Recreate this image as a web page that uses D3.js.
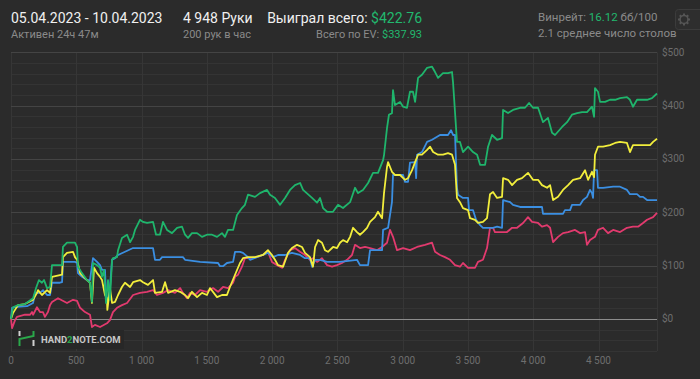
<!DOCTYPE html>
<html><head><meta charset="utf-8">
<script src="https://cdn.jsdelivr.net/npm/d3@7"></script>
<style>
html,body{margin:0;padding:0;background:#2b2b2b;}
svg{display:block;font-family:Roboto,"Noto Sans",sans-serif;}
</style></head>
<body><svg id="c" width="700" height="379"></svg>
<script>
// ---- data (hands, $) ----
const wonPoints = [[0,0],[15,22],[54,26],[107,28],[169,39],[192,58],[214,73],[237,68],[253,73],[276,58],[299,60],[314,101],[391,101],[398,135],[429,143],[490,143],[506,135],[513,98],[544,86],[582,73],[605,68],[620,32],[628,105],[659,101],[682,96],[697,79],[712,92],[728,30],[743,73],[758,36],[774,111],[781,114],[812,116],[820,129],[850,152],[889,158],[912,144],[935,154],[950,167],[988,186],[1011,182],[1042,180],[1088,182],[1111,158],[1141,158],[1164,182],[1195,167],[1233,161],[1272,171],[1310,173],[1333,158],[1356,152],[1386,161],[1425,161],[1463,154],[1501,158],[1540,158],[1578,154],[1616,161],[1639,154],[1662,167],[1701,167],[1731,195],[1769,208],[1792,214],[1815,233],[1869,229],[1907,236],[1961,242],[1984,233],[2022,227],[2061,214],[2099,227],[2137,242],[2175,251],[2214,255],[2237,242],[2306,227],[2344,218],[2367,227],[2390,208],[2421,201],[2466,201],[2505,214],[2543,208],[2597,219],[2635,246],[2658,236],[2696,242],[2735,255],[2773,274],[2811,274],[2850,298],[2857,307],[2880,358],[2895,383],[2918,386],[2926,429],[2941,401],[2980,407],[3003,398],[3033,396],[3056,426],[3079,426],[3095,407],[3118,452],[3148,458],[3187,471],[3225,473],[3248,463],[3271,452],[3309,461],[3347,461],[3378,463],[3386,443],[3416,332],[3439,332],[3462,313],[3501,323],[3539,313],[3570,308],[3593,289],[3631,289],[3654,323],[3684,345],[3723,336],[3761,339],[3769,392],[3807,386],[3845,392],[3899,396],[3937,396],[3968,405],[3998,396],[4037,396],[4075,369],[4113,377],[4144,349],[4167,345],[4221,360],[4259,369],[4297,383],[4336,386],[4374,388],[4412,388],[4450,398],[4466,379],[4473,433],[4496,426],[4512,407],[4550,407],[4588,411],[4627,411],[4665,414],[4718,416],[4741,411],[4764,398],[4795,411],[4833,411],[4872,411],[4910,414],[4948,422.76]];

const evPoints = [[0,0],[15,11],[54,26],[107,28],[169,36],[199,49],[207,54],[237,45],[276,54],[299,49],[314,79],[391,83],[398,116],[429,124],[475,126],[490,116],[506,111],[529,86],[582,73],[605,68],[620,30],[636,96],[659,86],[682,79],[697,73],[720,45],[735,39],[738,17],[758,58],[774,30],[797,32],[820,45],[850,60],[873,68],[912,60],[935,69],[988,73],[1011,69],[1049,64],[1088,73],[1103,49],[1157,51],[1180,69],[1203,49],[1256,54],[1295,51],[1333,45],[1356,39],[1386,51],[1425,41],[1463,49],[1501,45],[1524,58],[1578,41],[1616,45],[1654,45],[1677,60],[1716,83],[1754,105],[1777,114],[1815,116],[1869,116],[1930,120],[1968,129],[1999,120],[2022,111],[2045,101],[2084,98],[2122,124],[2152,133],[2191,139],[2229,135],[2252,124],[2290,116],[2313,98],[2329,135],[2352,148],[2382,143],[2405,129],[2428,126],[2467,135],[2497,133],[2520,143],[2543,148],[2574,144],[2597,154],[2620,171],[2650,163],[2673,158],[2696,163],[2727,171],[2750,182],[2788,191],[2811,201],[2842,189],[2857,236],[2880,285],[2888,294],[2918,276],[2941,270],[2980,270],[3018,261],[3041,264],[3072,279],[3095,294],[3118,308],[3148,308],[3187,317],[3210,323],[3233,313],[3271,308],[3309,308],[3347,311],[3378,308],[3401,289],[3416,227],[3439,219],[3462,208],[3501,204],[3516,189],[3554,186],[3577,180],[3615,182],[3646,189],[3669,234],[3692,238],[3723,227],[3761,229],[3769,264],[3807,261],[3838,251],[3876,261],[3914,264],[3960,274],[3998,261],[4037,261],[4067,251],[4106,246],[4129,251],[4152,223],[4190,229],[4228,242],[4267,251],[4305,261],[4359,264],[4397,279],[4420,261],[4450,276],[4466,266],[4473,308],[4496,323],[4535,323],[4588,326],[4627,330],[4665,332],[4718,330],[4741,313],[4764,326],[4803,326],[4856,326],[4895,326],[4918,332],[4948,337.93]];

const showdownPoints = [[0,0],[8,21],[46,23],[123,24],[169,30],[184,49],[222,49],[245,54],[276,45],[299,45],[314,68],[375,68],[391,69],[398,107],[490,107],[506,105],[513,86],[544,79],[582,73],[605,73],[628,114],[659,107],[682,101],[697,92],[720,92],[728,39],[743,39],[758,58],[774,111],[797,114],[820,120],[935,133],[1088,133],[1103,111],[1141,111],[1157,116],[1317,116],[1333,111],[1448,107],[1586,105],[1601,99],[1624,99],[1654,105],[1701,107],[1716,126],[1754,126],[1777,124],[1815,116],[1831,111],[1884,116],[1968,124],[2007,116],[2045,120],[2099,120],[2152,124],[2214,120],[2252,114],[2290,114],[2306,98],[2329,111],[2367,111],[2421,107],[2520,107],[2650,111],[2673,101],[2735,101],[2750,129],[2842,129],[2850,167],[2888,171],[2918,219],[2926,270],[3003,270],[3018,257],[3041,257],[3056,293],[3095,294],[3103,264],[3110,308],[3148,313],[3187,332],[3225,336],[3286,345],[3347,345],[3370,354],[3386,345],[3401,345],[3416,246],[3424,233],[3462,227],[3501,227],[3508,204],[3539,204],[3562,186],[3593,176],[3615,171],[3692,171],[3723,173],[3761,171],[3769,223],[3823,219],[3845,214],[3899,210],[4067,210],[4075,197],[4228,197],[4243,204],[4282,204],[4297,214],[4359,214],[4382,223],[4412,229],[4435,242],[4450,236],[4458,227],[4466,279],[4489,279],[4496,246],[4535,246],[4612,248],[4665,248],[4718,242],[4741,234],[4795,234],[4818,229],[4841,229],[4872,223],[4948,223]];

const nonShowdownPoints = [[0,0],[8,-17],[31,-2],[46,4],[107,8],[146,8],[161,13],[169,8],[199,22],[222,13],[245,13],[260,4],[283,13],[299,26],[314,32],[360,39],[429,30],[475,36],[506,34],[529,21],[567,13],[605,8],[620,-15],[643,-11],[682,-15],[735,-8],[758,-2],[781,13],[812,21],[850,26],[889,30],[935,45],[988,49],[1042,51],[1088,54],[1118,45],[1164,49],[1203,54],[1256,49],[1295,58],[1317,49],[1348,39],[1371,49],[1409,45],[1448,54],[1501,51],[1547,58],[1586,51],[1624,60],[1662,58],[1701,68],[1716,79],[1739,83],[1769,98],[1792,114],[1831,114],[1884,116],[1930,120],[1968,126],[1999,107],[2038,101],[2076,96],[2099,111],[2137,129],[2175,133],[2214,126],[2252,120],[2290,111],[2313,114],[2344,107],[2382,114],[2421,101],[2459,98],[2497,101],[2535,105],[2574,111],[2612,120],[2635,139],[2673,133],[2712,135],[2750,133],[2803,129],[2842,135],[2880,143],[2903,167],[2926,154],[2957,129],[3003,133],[3056,129],[3110,135],[3171,139],[3225,143],[3248,126],[3286,120],[3324,116],[3363,111],[3401,101],[3439,98],[3462,105],[3501,96],[3554,96],[3577,107],[3615,111],[3646,133],[3669,171],[3692,171],[3707,163],[3746,163],[3799,163],[3838,171],[3876,171],[3922,180],[3960,191],[3991,182],[4037,180],[4067,173],[4106,176],[4129,171],[4152,144],[4190,154],[4228,161],[4267,163],[4320,167],[4359,161],[4397,163],[4412,139],[4435,148],[4473,154],[4496,167],[4535,171],[4573,161],[4612,167],[4665,163],[4718,171],[4764,173],[4803,173],[4841,180],[4872,186],[4918,191],[4948,199]];

const xTicks = [0,500,1000,1500,2000,2500,3000,3500,4000,4500];
const yMajorTicks = [0,100,200,300,400,500];
const yMinorTicks = [-60,-40,-20,20,40,60,80,120,140,160,180,220,240,260,280,320,340,360,380,420,440,460,480];
const totalHands = 4948;

// ---- drawing ----
const svg = d3.select("#c");
const x = d3.scaleLinear().domain([0, totalHands]).range([11, 657]);
const y = d3.scaleLinear().domain([-60, 500]).range([351, 52.3]);
const fmtHands = v => d3.format(",")(v).replace(/,/g, "\u00a0");

const g = svg.append("g");
// grid
g.selectAll(".ymin").data(yMinorTicks).join("line")
  .attr("x1", x(0)).attr("x2", x(totalHands))
  .attr("y1", d => Math.round(y(d)) + 0.5).attr("y2", d => Math.round(y(d)) + 0.5)
  .attr("stroke", "#343434").attr("stroke-width", 1);
g.selectAll(".xg").data(xTicks.concat([totalHands])).join("line")
  .attr("x1", d => Math.round(x(d)) + 0.5).attr("x2", d => Math.round(x(d)) + 0.5)
  .attr("y1", y(500)).attr("y2", y(-60))
  .attr("stroke", "#363636").attr("stroke-width", 1);
g.selectAll(".ymaj").data(yMajorTicks.filter(d => d !== 0)).join("line")
  .attr("x1", x(0)).attr("x2", x(totalHands))
  .attr("y1", d => Math.round(y(d)) + 0.5).attr("y2", d => Math.round(y(d)) + 0.5)
  .attr("stroke", "#444444").attr("stroke-width", 1);
g.append("line")
  .attr("x1", x(0)).attr("x2", x(totalHands))
  .attr("y1", Math.round(y(0)) + 0.5).attr("y2", Math.round(y(0)) + 0.5)
  .attr("stroke", "#8c8c8c").attr("stroke-width", 1);

// axis labels
svg.selectAll(".yl").data(yMajorTicks).join("text")
  .attr("x", 662).attr("y", d => y(d)).attr("dy", "0.35em")
  .attr("font-size", 10).attr("fill", "#6e6e6e").text(d => "$" + d);
svg.selectAll(".xl").data(xTicks).join("text")
  .attr("x", d => x(d)).attr("y", 360).attr("dy", "0.35em")
  .attr("text-anchor", "middle").attr("font-size", 10).attr("fill", "#6e6e6e")
  .text(d => fmtHands(d));

// logo
const logo = svg.append("g");
logo.append("rect").attr("x", 12).attr("y", 330).attr("width", 112).attr("height", 19).attr("fill", "#272727");
logo.append("line").attr("x1", 19.5).attr("x2", 19.5).attr("y1", 331).attr("y2", 336).attr("stroke", "#d0d0d0").attr("stroke-width", 2);
logo.append("path").attr("d", "M19.5,346 L19.5,339 L33.5,336 L33.5,331").attr("fill", "none").attr("stroke", "#2aa84a").attr("stroke-width", 2);
logo.append("line").attr("x1", 33.5).attr("x2", 33.5).attr("y1", 340).attr("y2", 346).attr("stroke", "#d0d0d0").attr("stroke-width", 2);
const lt = logo.append("text").attr("x", 41).attr("y", 342.5).attr("font-size", 9.5).attr("font-weight", "bold").attr("fill", "#c8c8c8");
lt.append("tspan").text("HAND");
lt.append("tspan").attr("fill", "#2aa84a").text("2");
lt.append("tspan").text("NOTE.COM");

// lines
const line = d3.line().x(d => x(d[0])).y(d => y(d[1]));
const series = [
  {pts: nonShowdownPoints, color: "#e23a6e"},
  {pts: showdownPoints, color: "#3b8fe2"},
  {pts: evPoints, color: "#f2ee3c"},
  {pts: wonPoints, color: "#1fb56c"}
];
svg.selectAll(".ser").data(series).join("path")
  .attr("d", d => line(d.pts)).attr("fill", "none")
  .attr("stroke", d => d.color).attr("stroke-width", 1.8)
  .attr("stroke-linejoin", "round");

// header
const hdr = svg.append("g");
hdr.append("text").attr("x", 11).attr("y", 23).attr("font-size", 14).attr("fill", "#f0f0f0").text("05.04.2023 - 10.04.2023");
hdr.append("text").attr("x", 11).attr("y", 38).attr("font-size", 11).attr("fill", "#8a8a8a").text("Активен 24ч 47м");
hdr.append("text").attr("x", 183).attr("y", 23).attr("font-size", 14).attr("fill", "#f0f0f0").text("4 948 Руки");
hdr.append("text").attr("x", 183).attr("y", 38).attr("font-size", 11).attr("fill", "#8a8a8a").text("200 рук в час");
const w = hdr.append("text").attr("x", 422).attr("y", 23).attr("font-size", 14).attr("text-anchor", "end").attr("fill", "#f0f0f0");
w.append("tspan").text("Выиграл всего: ");
w.append("tspan").attr("fill", "#22b86e").text("$422.76");
const ev = hdr.append("text").attr("x", 422).attr("y", 38).attr("font-size", 11).attr("text-anchor", "end").attr("fill", "#8a8a8a");
ev.append("tspan").text("Всего по EV: ");
ev.append("tspan").attr("fill", "#22b86e").text("$337.93");
const wr = hdr.append("text").attr("x", 538).attr("y", 21).attr("font-size", 11.5).attr("fill", "#8a8a8a");
wr.append("tspan").text("Винрейт: ");
wr.append("tspan").attr("fill", "#22b86e").text("16.12");
wr.append("tspan").text(" бб/100");
hdr.append("text").attr("x", 538).attr("y", 37).attr("font-size", 11.5).attr("fill", "#8a8a8a").text("2.1 среднее число столов");

// settings button
const btn = svg.append("g");
btn.append("rect").attr("x", 675.5).attr("y", 9.5).attr("width", 30).attr("height", 20).attr("rx", 3)
  .attr("fill", "#2e2e2e").attr("stroke", "#3c3c3c");
const gearTeeth = d3.range(8);
btn.selectAll(".tooth").data(gearTeeth).join("line")
  .attr("x1", d => 684 + 3.5 * Math.cos(d * Math.PI / 4)).attr("y1", d => 19.5 + 3.5 * Math.sin(d * Math.PI / 4))
  .attr("x2", d => 684 + 6 * Math.cos(d * Math.PI / 4)).attr("y2", d => 19.5 + 6 * Math.sin(d * Math.PI / 4))
  .attr("stroke", "#555").attr("stroke-width", 2);
btn.append("circle").attr("cx", 684).attr("cy", 19.5).attr("r", 4).attr("fill", "none").attr("stroke", "#555").attr("stroke-width", 1.5);
</script></body></html>
